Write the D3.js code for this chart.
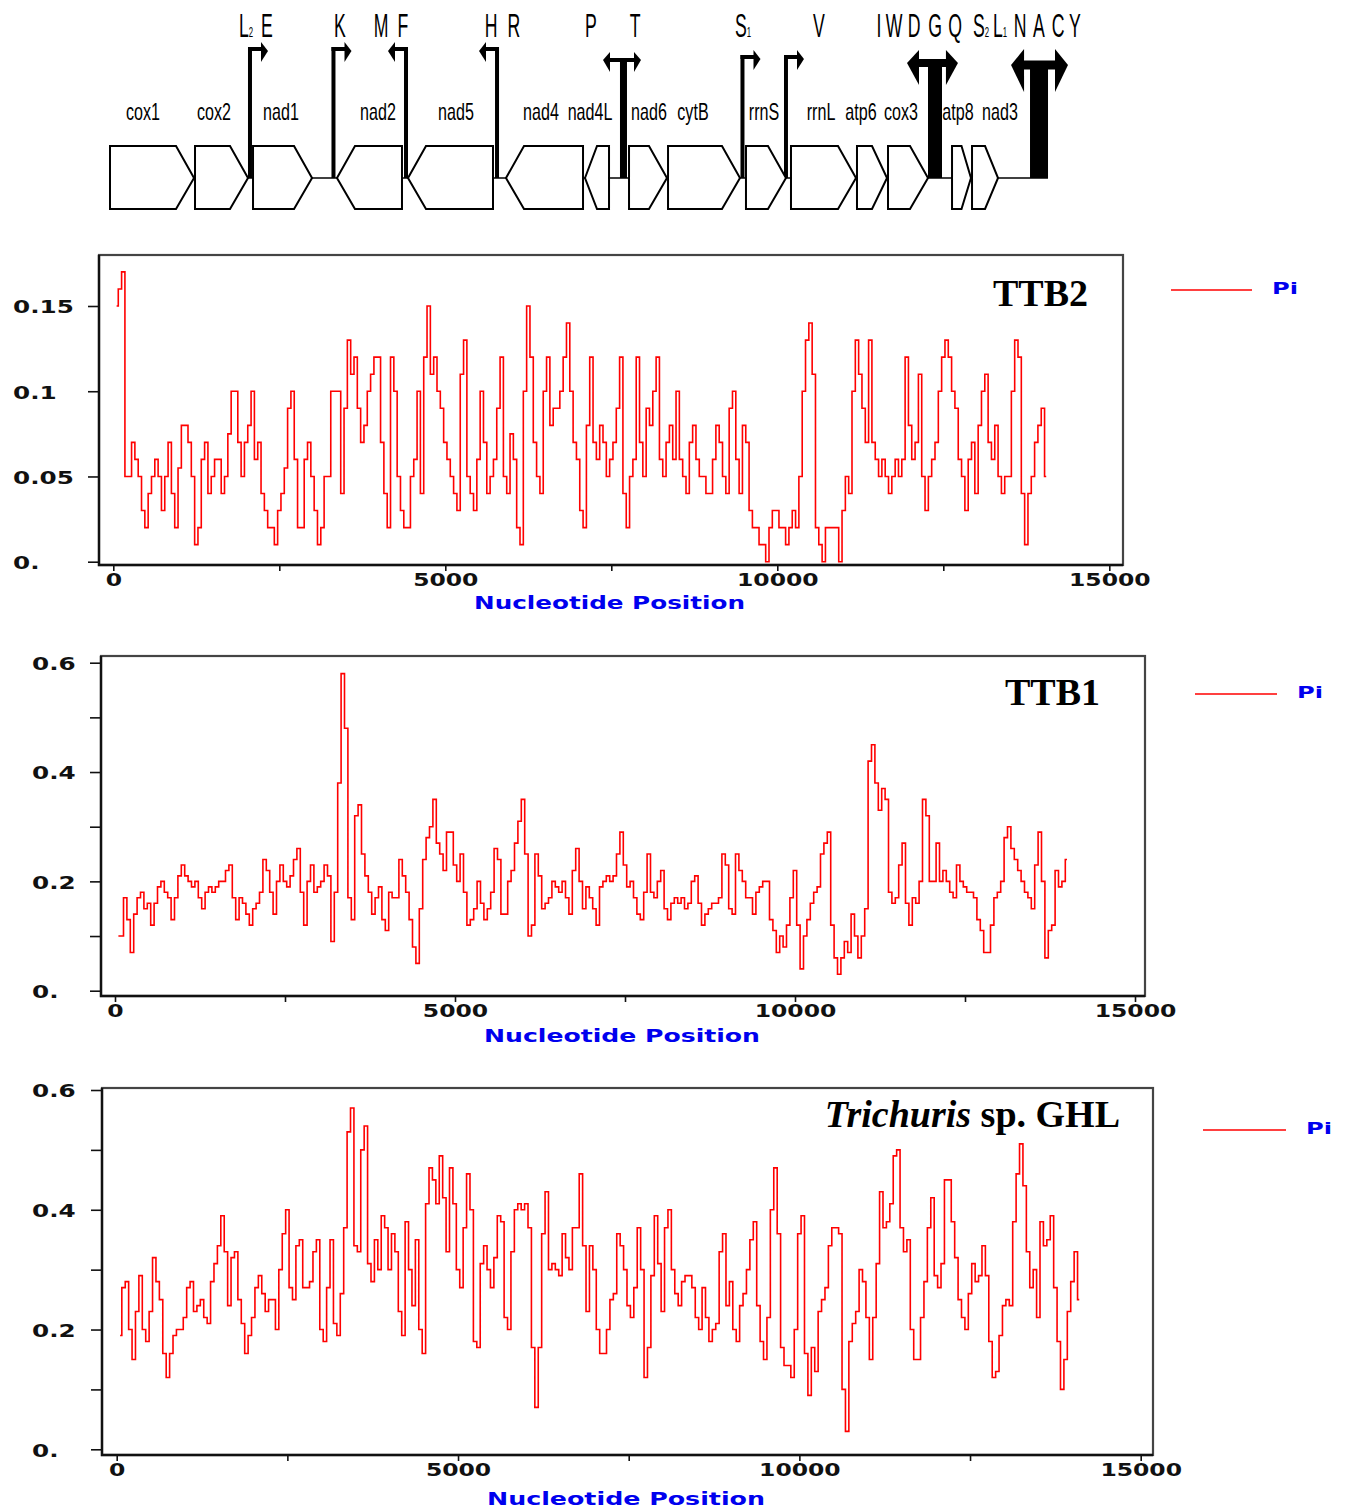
<!DOCTYPE html>
<html><head><meta charset="utf-8">
<script src="https://cdn.jsdelivr.net/npm/d3@7"></script>
<style>body{margin:0;background:#fff;} svg{display:block;}</style>
</head><body>
<svg id="chart" width="1350" height="1508"></svg>
<script>
// ---------- DATA ----------
const windowStart = 50, windowStep = 50;   // bp, sliding window midpoint and step

const ttb2Pi = [0.15,0.16,0.17,0.05,0.05,0.07,0.06,0.05,0.03,0.02,
  0.04,0.05,0.06,0.05,0.03,0.05,0.07,0.04,0.02,0.055,
  0.08,0.08,0.07,0.05,0.01,0.02,0.06,0.07,0.04,0.05,
  0.06,0.06,0.04,0.05,0.075,0.1,0.1,0.07,0.05,0.07,
  0.08,0.1,0.06,0.07,0.04,0.03,0.02,0.02,0.01,0.03,
  0.04,0.055,0.09,0.1,0.06,0.02,0.02,0.06,0.07,0.05,
  0.03,0.01,0.02,0.05,0.05,0.1,0.1,0.1,0.04,0.09,
  0.13,0.11,0.12,0.09,0.07,0.08,0.1,0.11,0.12,0.12,
  0.07,0.04,0.02,0.12,0.1,0.05,0.03,0.02,0.02,0.05,
  0.06,0.1,0.04,0.12,0.15,0.11,0.12,0.1,0.09,0.07,
  0.06,0.05,0.04,0.03,0.11,0.13,0.05,0.04,0.03,0.06,
  0.1,0.07,0.04,0.05,0.06,0.09,0.12,0.05,0.04,0.075,
  0.06,0.02,0.01,0.1,0.15,0.12,0.07,0.05,0.04,0.1,
  0.12,0.08,0.09,0.09,0.1,0.12,0.14,0.1,0.07,0.06,
  0.03,0.02,0.08,0.12,0.07,0.06,0.08,0.07,0.05,0.06,
  0.07,0.09,0.12,0.04,0.02,0.05,0.06,0.12,0.07,0.05,
  0.09,0.08,0.1,0.12,0.06,0.05,0.07,0.08,0.06,0.1,
  0.06,0.05,0.04,0.07,0.08,0.06,0.05,0.05,0.04,0.04,
  0.06,0.08,0.07,0.05,0.04,0.09,0.1,0.06,0.04,0.08,
  0.07,0.03,0.02,0.02,0.01,0.01,0.0,0.02,0.03,0.03,
  0.02,0.02,0.01,0.02,0.03,0.02,0.05,0.1,0.13,0.14,
  0.11,0.02,0.01,0.0,0.02,0.02,0.02,0.02,0.0,0.03,
  0.05,0.04,0.1,0.13,0.11,0.09,0.07,0.13,0.07,0.06,
  0.05,0.06,0.05,0.04,0.05,0.06,0.05,0.06,0.12,0.08,
  0.06,0.07,0.11,0.05,0.03,0.05,0.06,0.07,0.1,0.12,
  0.13,0.12,0.1,0.09,0.06,0.05,0.03,0.06,0.07,0.04,
  0.08,0.1,0.11,0.07,0.06,0.08,0.05,0.04,0.05,0.05,
  0.1,0.13,0.12,0.04,0.01,0.04,0.05,0.07,0.08,0.09,0.05];

const ttb1Pi = [0.1,0.1,0.17,0.13,0.07,0.14,0.17,0.18,0.15,0.16,
  0.12,0.16,0.19,0.2,0.18,0.17,0.13,0.17,0.21,0.23,
  0.21,0.2,0.19,0.2,0.17,0.15,0.18,0.19,0.18,0.19,
  0.2,0.2,0.22,0.23,0.17,0.13,0.17,0.16,0.14,0.12,
  0.15,0.16,0.18,0.24,0.22,0.18,0.14,0.2,0.23,0.2,
  0.19,0.21,0.24,0.26,0.18,0.12,0.2,0.23,0.18,0.19,
  0.2,0.23,0.21,0.09,0.18,0.38,0.58,0.48,0.17,0.13,
  0.32,0.34,0.25,0.21,0.18,0.14,0.17,0.19,0.13,0.11,
  0.18,0.17,0.17,0.24,0.21,0.18,0.13,0.08,0.05,0.15,
  0.24,0.28,0.3,0.35,0.27,0.25,0.22,0.29,0.29,0.23,
  0.2,0.25,0.18,0.12,0.13,0.15,0.2,0.16,0.13,0.15,
  0.18,0.26,0.24,0.14,0.14,0.2,0.22,0.27,0.31,0.35,
  0.25,0.1,0.12,0.25,0.21,0.15,0.16,0.17,0.2,0.19,
  0.18,0.2,0.17,0.14,0.22,0.26,0.2,0.15,0.19,0.17,
  0.15,0.12,0.19,0.2,0.21,0.2,0.21,0.25,0.29,0.23,
  0.19,0.2,0.17,0.14,0.13,0.18,0.25,0.18,0.17,0.2,
  0.22,0.15,0.13,0.16,0.17,0.16,0.17,0.15,0.16,0.2,
  0.21,0.16,0.12,0.14,0.15,0.16,0.16,0.17,0.25,0.23,
  0.15,0.14,0.25,0.22,0.2,0.17,0.17,0.14,0.18,0.19,
  0.2,0.2,0.13,0.11,0.07,0.1,0.08,0.12,0.17,0.22,
  0.12,0.04,0.1,0.13,0.16,0.18,0.19,0.25,0.27,0.29,
  0.12,0.06,0.03,0.06,0.09,0.07,0.14,0.1,0.06,0.1,
  0.15,0.42,0.45,0.38,0.33,0.37,0.35,0.18,0.16,0.17,
  0.23,0.27,0.16,0.12,0.17,0.16,0.2,0.35,0.32,0.2,
  0.2,0.27,0.2,0.22,0.2,0.18,0.17,0.23,0.2,0.19,
  0.18,0.18,0.17,0.13,0.11,0.07,0.07,0.12,0.17,0.18,
  0.2,0.28,0.3,0.26,0.24,0.22,0.2,0.18,0.17,0.15,
  0.23,0.29,0.2,0.06,0.11,0.12,0.22,0.19,0.2,0.24];

const ghlPi = [0.19,0.27,0.28,0.2,0.15,0.23,0.29,0.2,0.18,0.23,
  0.32,0.28,0.25,0.16,0.12,0.16,0.19,0.2,0.2,0.22,
  0.27,0.28,0.23,0.24,0.25,0.22,0.21,0.28,0.31,0.34,
  0.39,0.33,0.24,0.32,0.33,0.25,0.21,0.16,0.19,0.22,
  0.27,0.29,0.26,0.23,0.25,0.25,0.2,0.3,0.36,0.4,
  0.27,0.25,0.34,0.35,0.27,0.27,0.28,0.33,0.35,0.2,
  0.18,0.27,0.35,0.21,0.19,0.26,0.37,0.53,0.57,0.34,
  0.33,0.5,0.54,0.31,0.28,0.35,0.3,0.39,0.37,0.3,
  0.36,0.33,0.23,0.19,0.38,0.3,0.24,0.35,0.2,0.16,
  0.41,0.47,0.45,0.41,0.49,0.42,0.33,0.47,0.41,0.3,
  0.27,0.37,0.46,0.4,0.18,0.17,0.31,0.34,0.3,0.27,
  0.32,0.39,0.38,0.22,0.2,0.33,0.4,0.41,0.4,0.41,
  0.37,0.17,0.07,0.17,0.36,0.43,0.3,0.31,0.3,0.29,
  0.36,0.32,0.3,0.37,0.37,0.46,0.34,0.23,0.34,0.3,
  0.2,0.16,0.16,0.2,0.25,0.26,0.36,0.34,0.3,0.24,
  0.22,0.27,0.37,0.3,0.12,0.17,0.29,0.39,0.31,0.23,
  0.37,0.4,0.3,0.26,0.24,0.28,0.29,0.29,0.27,0.22,
  0.2,0.27,0.22,0.18,0.2,0.21,0.33,0.36,0.24,0.28,
  0.2,0.18,0.24,0.26,0.3,0.35,0.38,0.24,0.18,0.15,
  0.22,0.4,0.47,0.36,0.17,0.14,0.14,0.12,0.2,0.36,
  0.39,0.16,0.09,0.17,0.13,0.23,0.25,0.27,0.34,0.37,
  0.37,0.36,0.1,0.03,0.18,0.21,0.23,0.3,0.28,0.22,
  0.15,0.22,0.31,0.43,0.37,0.38,0.41,0.49,0.5,0.37,
  0.33,0.35,0.2,0.15,0.15,0.22,0.28,0.37,0.42,0.29,
  0.27,0.31,0.45,0.45,0.38,0.32,0.25,0.22,0.2,0.26,
  0.31,0.28,0.29,0.34,0.29,0.18,0.12,0.13,0.19,0.24,
  0.25,0.24,0.38,0.46,0.51,0.44,0.33,0.27,0.3,0.22,
  0.38,0.34,0.35,0.39,0.27,0.18,0.1,0.15,0.23,0.28,0.33,0.25];

const xTickValues = [0, 2500, 5000, 7500, 10000, 12500, 15000];
const xTickLabels = ["0", "", "5000", "", "10000", "", "15000"];
const yTicksTTB2 = [0, 0.05, 0.1, 0.15];
const yTickLabelsTTB2 = ["0.", "0.05", "0.1", "0.15"];
const yTicksWide = [0, 0.1, 0.2, 0.3, 0.4, 0.5, 0.6];
const yTickLabelsWide = ["0.", "", "0.2", "", "0.4", "", "0.6"];

// gene map (bp)
const genomeEnd = 14212;
const geneNames  = ["cox1","cox2","nad1","nad2","nad5","nad4","nad4L","nad6","cytB","rrnS","rrnL","atp6","cox3","atp8","nad3"];
const geneStart  = [0,1288,2167,3439,4515,6000,7197,7864,8455,9636,10318,11318,11788,12758,13061];
const geneEnd    = [1273,2091,3061,4424,5803,7167,7561,8439,9545,10242,11303,11773,12394,13045,13455];
const geneStrand = [1,1,1,-1,-1,-1,-1,1,1,1,1,1,1,1,1];
const geneLabelAt = [500,1576,2591,4061,5242,6530,7273,8167,8833,9909,10773,11379,11985,12849,13485];

const trnaSingleAt  = [2121, 3386, 4485, 5864, 9583, 10242];
const trnaSingleDir = [1, 1, -1, -1, 1, 1];
const trnaClusterAt    = [7780, 12500, 14076];
const trnaClusterLeft  = [7470, 12076, 13652];
const trnaClusterRight = [8045, 12848, 14515];

const trnaLabels   = ["L|2","E","K","M","F","H","R","P","T","S|1","V","I","W","D","G","Q","S|2","L|1","N","A","C","Y"];
const trnaLabelAt  = [2061,2379,3485,4106,4439,5773,6121,7288,7955,9591,10742,11652,11879,12182,12500,12803,13197,13485,13788,14076,14364,14621];

// ---------- LAYOUT ----------
const svg = d3.select("#chart");
const mapX = d3.scaleLinear().domain([0, 15000]).range([110, 1100]);
const midY = 178, boxTop = 146, boxBot = 209;
const singleArmY = [49, 49, 49, 49, 57, 57];
const cluster = [
  {armY: 60, armW: 4, head: 7, up: 8, down: 12, barW: 7},
  {armY: 63, armW: 8, head: 12, up: 13, down: 22, barW: 14},
  {armY: 65, armW: 9, head: 13, up: 16, down: 27, barW: 18}
];

function squeeze(sel, factor) {
  sel.each(function () {
    const w = this.getComputedTextLength();
    this.setAttribute("textLength", w * factor);
    this.setAttribute("lengthAdjust", "spacingAndGlyphs");
  });
}

// baseline
svg.append("line").attr("x1", mapX(0)).attr("x2", mapX(genomeEnd))
  .attr("y1", midY).attr("y2", midY).attr("stroke", "#000").attr("stroke-width", 1.5);

// single tRNA bent arrows
trnaSingleAt.forEach((bp, i) => {
  const sx = mapX(bp), d = trnaSingleDir[i], ay = singleArmY[i];
  svg.append("line").attr("x1", sx).attr("x2", sx).attr("y1", midY).attr("y2", ay - 2)
    .attr("stroke", "#000").attr("stroke-width", 4);
  svg.append("line").attr("x1", sx - d * 2).attr("x2", sx + d * 12).attr("y1", ay).attr("y2", ay)
    .attr("stroke", "#000").attr("stroke-width", 4);
  svg.append("polygon")
    .attr("points", [[sx + d * 11, ay - 7], [sx + d * 18, ay + 2], [sx + d * 11, ay + 13]].map(p => p.join(",")).join(" "))
    .attr("fill", "#000");
});

// tRNA clusters (T shapes with double arrows)
trnaClusterAt.forEach((bp, i) => {
  const c = cluster[i], cx = mapX(bp), l = mapX(trnaClusterLeft[i]), r = mapX(trnaClusterRight[i]);
  svg.append("rect").attr("x", cx - c.barW / 2).attr("y", c.armY).attr("width", c.barW).attr("height", midY - c.armY)
    .attr("fill", "#000");
  svg.append("line").attr("x1", l + c.head - 1).attr("x2", r - c.head + 1).attr("y1", c.armY).attr("y2", c.armY)
    .attr("stroke", "#000").attr("stroke-width", c.armW);
  svg.append("polygon").attr("points", [[l + c.head, c.armY - c.up], [l, c.armY], [l + c.head, c.armY + c.down]].map(p => p.join(",")).join(" ")).attr("fill", "#000");
  svg.append("polygon").attr("points", [[r - c.head, c.armY - c.up], [r, c.armY], [r - c.head, c.armY + c.down]].map(p => p.join(",")).join(" ")).attr("fill", "#000");
});

// genes
geneNames.forEach((name, i) => {
  const a = mapX(geneStart[i]), b = mapX(geneEnd[i]);
  const tip = Math.min(18, (b - a) * 0.5);
  const pts = geneStrand[i] > 0
    ? [[a, boxTop], [b - tip, boxTop], [b, midY], [b - tip, boxBot], [a, boxBot]]
    : [[a, midY], [a + tip, boxTop], [b, boxTop], [b, boxBot], [a + tip, boxBot]];
  svg.append("polygon").attr("points", pts.map(p => p.join(",")).join(" "))
    .attr("fill", "#fff").attr("stroke", "#000").attr("stroke-width", 2);
});
svg.append("g").selectAll("text").data(geneNames).join("text")
  .attr("transform", (d, i) => `translate(${mapX(geneLabelAt[i])},120) scale(0.7,1)`)
  .attr("text-anchor", "middle").attr("font-family", "Liberation Sans, Arial, sans-serif")
  .attr("font-size", 23).attr("fill", "#000").text(d => d);

// tRNA letters
trnaLabels.forEach((lab, i) => {
  const [main, sub] = lab.split("|");
  const t = svg.append("text")
    .attr("transform", `translate(${mapX(trnaLabelAt[i])},37) scale(0.52,1)`)
    .attr("text-anchor", "middle").attr("font-family", "Liberation Sans, Arial, sans-serif")
    .attr("font-size", 34).attr("fill", "#000");
  t.append("tspan").text(main);
  if (sub) t.append("tspan").attr("font-size", 15).text(sub);
});

// ---------- PANELS ----------
const panels = [
  {values: ttb2Pi, box: [99, 255, 1123, 565], xRange: [113.3, 1109.3], yDomain: [0, 0.15], yRange: [561.7, 306],
   yTicks: yTicksTTB2, yLabels: yTickLabelsTTB2, yLabelX: 13, titleX: 1088, titleY: 306,
   legY: 290, legX0: 1171, legX1: 1252, piX: 1272, axT: [474, 745], axY: 609, title: "ttb2"},
  {values: ttb1Pi, box: [101, 656, 1145, 996], xRange: [115, 1135], yDomain: [0, 0.6], yRange: [990.7, 662.7],
   yTicks: yTicksWide, yLabels: yTickLabelsWide, yLabelX: 32, titleX: 1100, titleY: 705,
   legY: 694, legX0: 1195, legX1: 1277, piX: 1297, axT: [484, 760], axY: 1042, title: "ttb1"},
  {values: ghlPi, box: [102, 1088, 1153, 1455], xRange: [116.7, 1140.7], yDomain: [0, 0.6], yRange: [1449.3, 1090],
   yTicks: yTicksWide, yLabels: yTickLabelsWide, yLabelX: 32, titleX: 1120, titleY: 1127,
   legY: 1130, legX0: 1203, legX1: 1286, piX: 1306, axT: [487, 765], axY: 1505, title: "ghl"}
];

const tickFont = "DejaVu Sans, Verdana, sans-serif";

panels.forEach(p => {
  const [x0, y0, x1, y1] = p.box;
  const x = d3.scaleLinear().domain([0, 15000]).range(p.xRange);
  const y = d3.scaleLinear().domain(p.yDomain).range(p.yRange);
  const g = svg.append("g");

  // frame
  g.append("rect").attr("x", x0).attr("y", y0).attr("width", x1 - x0).attr("height", y1 - y0)
    .attr("fill", "none").attr("stroke", "#444").attr("stroke-width", 2.2);
  g.append("path").attr("d", `M${x0},${y0}V${y1}H${x1}`).attr("fill", "none").attr("stroke", "#111").attr("stroke-width", 2.4);

  // data
  const pts = p.values.map((v, i) => ({pos: windowStart + i * windowStep, v}));
  g.append("path").datum(pts)
    .attr("d", d3.line().x(d => x(d.pos)).y(d => y(d.v)).curve(d3.curveStep))
    .attr("fill", "none").attr("stroke", "#ff0000").attr("stroke-width", 1.6);

  // y axis
  const ya = g.append("g").attr("transform", `translate(${x0},0)`)
    .call(d3.axisLeft(y).tickValues(p.yTicks).tickSize(11).tickSizeOuter(0)
      .tickFormat((d, i) => p.yLabels[i]));
  ya.select(".domain").remove();
  ya.selectAll("line").attr("stroke", "#111").attr("stroke-width", 1.6);
  ya.selectAll("text").attr("x", p.yLabelX - x0).attr("text-anchor", "start").attr("dy", "0.4em")
    .attr("font-family", tickFont).attr("font-weight", "bold").attr("font-size", 17).attr("fill", "#111")
    .filter(function () { return this.textContent.length > 0; }).call(squeeze, 1.45);

  // x axis
  const xa = g.append("g").attr("transform", `translate(0,${y1})`)
    .call(d3.axisBottom(x).tickValues(xTickValues).tickSize(6).tickSizeOuter(0)
      .tickFormat((d, i) => xTickLabels[i]));
  xa.select(".domain").remove();
  xa.selectAll("line").attr("stroke", "#111").attr("stroke-width", 1.6);
  xa.selectAll("text").attr("font-family", tickFont).attr("font-weight", "bold").attr("font-size", 17)
    .attr("fill", "#111").filter(function () { return this.textContent.length > 0; }).call(squeeze, 1.38);

  // axis title
  g.append("text").attr("x", p.axT[0]).attr("y", p.axY).attr("font-family", tickFont).attr("font-weight", "bold")
    .attr("font-size", 17).attr("fill", "#0000ee").attr("textLength", p.axT[1] - p.axT[0])
    .attr("lengthAdjust", "spacingAndGlyphs").text("Nucleotide Position");

  // legend
  g.append("line").attr("x1", p.legX0).attr("x2", p.legX1).attr("y1", p.legY).attr("y2", p.legY)
    .attr("stroke", "#ff0000").attr("stroke-width", 1.5);
  g.append("text").attr("x", p.piX).attr("y", p.legY + 4).attr("font-family", tickFont).attr("font-weight", "bold")
    .attr("font-size", 16).attr("fill", "#0000ee").attr("textLength", 26).attr("lengthAdjust", "spacingAndGlyphs").text("Pi");

  // title
  const t = g.append("text").attr("x", p.titleX).attr("y", p.titleY).attr("text-anchor", "end")
    .attr("font-family", "Liberation Serif, Times New Roman, serif").attr("font-weight", "bold")
    .attr("font-size", 38).attr("fill", "#000");
  if (p.title === "ghl") {
    t.append("tspan").attr("font-style", "italic").text("Trichuris");
    t.append("tspan").text(" sp. GHL");
  } else {
    t.text(p.title.toUpperCase());
  }
});
</script>
</body></html>
